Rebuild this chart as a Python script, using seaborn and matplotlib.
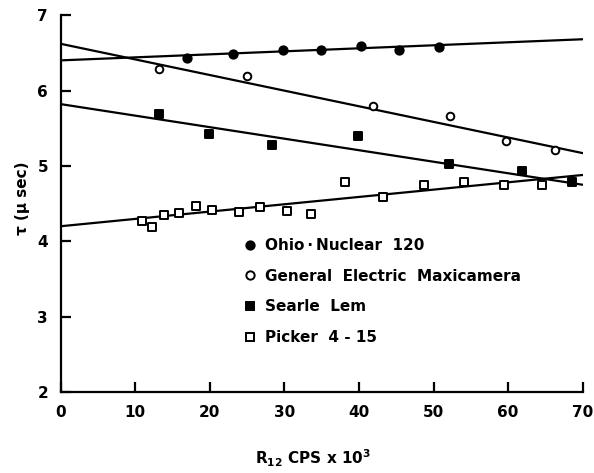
import matplotlib
matplotlib.use("Agg")
import matplotlib.pyplot as plt
from matplotlib.lines import Line2D
import seaborn as sns
import pandas as pd

# ---- data ----
ohio_x = [17.0, 23.1, 29.8, 34.9, 40.3, 45.4, 50.7]
ohio_y = [6.43, 6.48, 6.54, 6.54, 6.59, 6.54, 6.58]

ge_x = [13.2, 25.0, 41.9, 52.2, 59.7, 66.3]
ge_y = [6.28, 6.19, 5.79, 5.66, 5.33, 5.21]

searle_x = [13.2, 19.9, 28.4, 39.9, 52.1, 61.9, 68.6]
searle_y = [5.69, 5.43, 5.28, 5.40, 5.02, 4.93, 4.79]

picker_x = [10.9, 12.3, 13.9, 15.9, 18.2, 20.3, 23.9, 26.7, 30.4, 33.6,
            38.1, 43.2, 48.7, 54.1, 59.5, 64.6]
picker_y = [4.27, 4.19, 4.35, 4.37, 4.47, 4.41, 4.39, 4.45, 4.40, 4.36,
            4.79, 4.59, 4.75, 4.79, 4.75, 4.75]

# fitted lines (values at x = 0 and x = 70)
fit_x = [0, 70]
ohio_fit = [6.40, 6.68]
ge_fit = [6.62, 5.17]
searle_fit = [5.82, 4.75]
picker_fit = [4.20, 4.88]

series_names = ["Ohio\u2009\u00b7\u2009Nuclear  120", "General  Electric  Maxicamera",
                "Searle  Lem", "Picker  4 - 15"]
x_ticks = [0, 10, 20, 30, 40, 50, 60, 70]
y_ticks = [2, 3, 4, 5, 6, 7]

# ---- figure ----
sns.set_style("ticks")
plt.rcParams["font.family"] = ["DejaVu Sans"]
plt.rcParams["font.weight"] = "bold"
plt.rcParams["text.color"] = "black"
plt.rcParams["axes.labelcolor"] = "black"
plt.rcParams["axes.edgecolor"] = "black"
plt.rcParams["xtick.color"] = "black"
plt.rcParams["ytick.color"] = "black"
plt.rcParams["mathtext.fontset"] = "custom"
plt.rcParams["mathtext.rm"] = "DejaVu Sans:bold"
plt.rcParams["mathtext.it"] = "DejaVu Sans:bold"
plt.rcParams["mathtext.bf"] = "DejaVu Sans:bold"

fig = plt.figure(figsize=(5.94, 4.73), dpi=100)
ax = fig.add_axes([0.102, 0.171, 0.879, 0.797])

markers = ["o", "o", "s", "s"]
faces = ["black", "white", "black", "white"]
sizes = [36, 30, 36, 30]
xs = [ohio_x, ge_x, searle_x, picker_x]
ys = [ohio_y, ge_y, searle_y, picker_y]
fits = [ohio_fit, ge_fit, searle_fit, picker_fit]

for name, x, y, f, m, fc, s in zip(series_names, xs, ys, fits, markers, faces, sizes):
    sns.lineplot(x=fit_x, y=f, ax=ax, color="black", linewidth=1.6, zorder=2)
    df = pd.DataFrame({"x": x, "y": y})
    sns.scatterplot(data=df, x="x", y="y", ax=ax, marker=m, s=s,
                    facecolor=fc, edgecolor="black", linewidth=1.4, zorder=3)

ax.set_xlim(0, 70)
ax.set_ylim(2, 7)
ax.set_xticks(x_ticks)
ax.set_yticks(y_ticks)
sns.despine(ax=ax)
for sp in ["left", "bottom"]:
    ax.spines[sp].set_linewidth(1.6)
    ax.spines[sp].set_color("black")
ax.tick_params(direction="in", length=7, width=1.6, labelsize=11,
               colors="black")
ax.tick_params(axis="x", pad=9)
ax.tick_params(axis="y", pad=9)
for lab in ax.get_xticklabels() + ax.get_yticklabels():
    lab.set_fontweight("bold")

ax.set_xlabel(r"R$_{12}$ CPS x 10$^{3}$", fontsize=11, fontweight="bold",
              color="black")
ax.xaxis.set_label_coords(0.483, -0.148)
ax.set_ylabel("\u03c4 (\u03bc sec)", fontsize=11, fontweight="bold",
              color="black")
ax.yaxis.set_label_coords(-0.058, 0.515)

handles = [Line2D([], [], linestyle="none", marker=m, markersize=6,
                  markerfacecolor=fc, markeredgecolor="black", markeredgewidth=1.4)
           for m, fc in zip(markers, faces)]
leg = ax.legend(handles, series_names, loc="upper left",
                bbox_to_anchor=(0.322, 0.445), frameon=False,
                prop={"size": 11, "weight": "bold"}, handletextpad=0.45,
                handlelength=1.0, labelspacing=1.02, labelcolor="black")

fig.savefig("out.png", dpi=100)
